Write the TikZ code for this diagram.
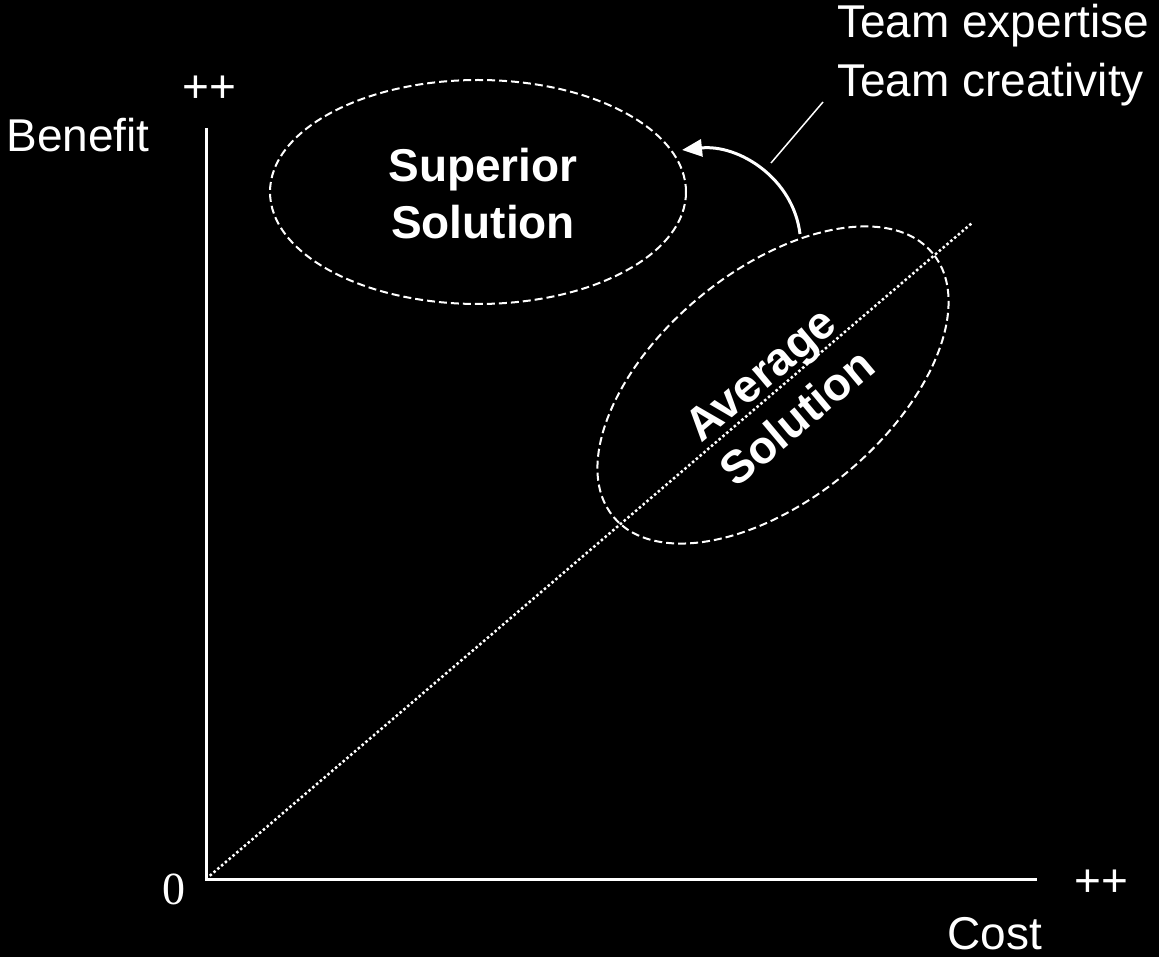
\documentclass[tikz,border=0pt]{standalone}
\usepackage{fontspec}
\setmainfont{Liberation Sans}
\newfontfamily\timesfont{Liberation Serif}
\usetikzlibrary{shapes.geometric, arrows.meta}

\tikzset{
  lbl/.style={text=white, font=\fontsize{46}{56}\selectfont, inner sep=0pt},
  boldlbl/.style={text=white, font=\fontsize{46}{57}\selectfont\bfseries, inner sep=0pt},
  oval/.style={ellipse, draw=white, line width=2pt, dash pattern=on 8pt off 4pt, inner sep=0pt},
  axis/.style={white, line width=3pt},
}

\begin{document}
\begin{tikzpicture}[x=1pt, y=-1pt]

\fill[black] (0,0) rectangle (1159,957);
\useasboundingbox (0,0) rectangle (1159,957);

\coordinate (yEnd) at (206,128);
\coordinate (origin) at (206,879);
\coordinate (xEnd) at (1037,879);
\coordinate (diagEnd) at (972,223);

\draw[axis] (yEnd) -- (origin) -- (xEnd);

\draw[white, line width=2.5pt, dash pattern=on 2.5pt off 2.5pt, shorten <=5pt] (origin) -- (diagEnd);

\draw (78,152) node[lbl, anchor=base] (benefit) {Benefit};

\draw (209,103) node[lbl, anchor=base] (plusB) {++};

\draw (174,904) node[lbl, anchor=base, font=\fontsize{46}{56}\timesfont] (zero) {0};

\draw (1101,896) node[lbl, anchor=base] (plusC) {++};

\draw (995,949) node[lbl, anchor=base] (cost) {Cost};

\draw (837,38) node[lbl, anchor=base west] (expert) {Team expertise};

\draw (837,97) node[lbl, anchor=base west] (creat) {Team creativity};

% the two solutions
\node[oval, minimum width=416, minimum height=224] (sup) at (478,192) {};

\node[boldlbl, align=center] (suptext) at (483,194) {Superior\\Solution};

\node[oval, rotate=39.5, minimum width=414, minimum height=229] (avg) at (773,385) {};

\node[boldlbl, align=center, rotate=40] (avgtext) at (779,396) {Average\\Solution};

\coordinate (arrS) at (800,234);
\coordinate (arrE) at (682,150);
\draw[white, line width=3pt, -{Triangle[length=20pt, width=17pt]}] (arrS) to[out=97, in=6] (arrE);

\coordinate (leadA) at (771,163);
\coordinate (leadB) at (823,102);
\draw[white, line width=1.5pt] (leadA) -- (leadB);

\end{tikzpicture}
\end{document}
